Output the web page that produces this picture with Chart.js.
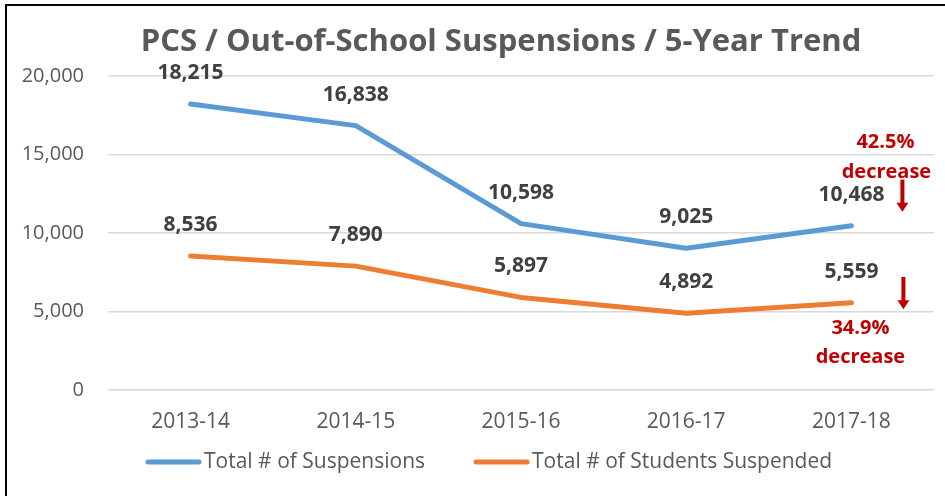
<!DOCTYPE html>
<html>
<head>
<meta charset="utf-8">
<script src="https://cdn.jsdelivr.net/npm/chart.js@4.4.1/dist/chart.umd.min.js"></script>
<style>
  html, body { margin: 0; padding: 0; background: #fff; }
  #wrap { position: relative; width: 945px; height: 496px; }
  #frame { position: absolute; left: 5px; top: 4px; right: 0; bottom: 0;
           border-top: 2px solid #000; border-left: 2px solid #000; pointer-events: none; }
</style>
</head>
<body>
<div id="wrap">
  <canvas id="trendChart"></canvas>
  <div id="frame"></div>
</div>
<script>
// chart data
const chartTitle = 'PCS / Out-of-School Suspensions / 5-Year Trend';
const years = ['2013-14', '2014-15', '2015-16', '2016-17', '2017-18'];
const totalSuspensions = [18215, 16838, 10598, 9025, 10468];
const studentsSuspended = [8536, 7890, 5897, 4892, 5559];
const yTicks = [0, 5000, 10000, 15000, 20000];
const suspensionsNote = ['42.5%', 'decrease'];
const studentsNote = ['34.9%', 'decrease'];

const FONT = "'Open Sans', sans-serif";
const RED = '#C00000';

// title, legend, value labels above each point and the red "decrease" notes
const labelPlugin = {
  id: 'pointLabels',
  afterDatasetsDraw(chart) {
    const ctx = chart.ctx;
    ctx.save();
    ctx.textAlign = 'center';
    ctx.textBaseline = 'middle';

    ctx.font = 'bold 31px ' + FONT;
    ctx.fillStyle = '#595959';
    ctx.fillText(chartTitle, 501, 42);

    ctx.font = 'bold 21px ' + FONT;
    ctx.fillStyle = '#404040';
    chart.data.datasets.forEach((ds, i) => {
      chart.getDatasetMeta(i).data.forEach((pt, j) => {
        ctx.fillText(ds.data[j].toLocaleString('en-US'), pt.x, pt.y - 31);
      });
    });

    // legend along the bottom
    ctx.font = '21px ' + FONT;
    ctx.textAlign = 'left';
    ctx.lineCap = 'round';
    ctx.lineWidth = 5;
    let lx = 146;
    chart.data.datasets.forEach(ds => {
      ctx.strokeStyle = ds.borderColor;
      ctx.beginPath();
      ctx.moveTo(lx + 2, 462);
      ctx.lineTo(lx + 53, 462);
      ctx.stroke();
      ctx.fillStyle = '#595959';
      ctx.fillText(ds.label, lx + 58, 462);
      lx += 58 + ctx.measureText(ds.label).width + 49;
    });

    // notes next to the last year
    const xs = chart.scales.x, ys = chart.scales.y;
    const xLast = xs.getPixelForValue(years.length - 1);
    ctx.textAlign = 'center';
    ctx.font = 'bold 20px ' + FONT;
    ctx.fillStyle = RED;
    ctx.fillText(suspensionsNote[0], xLast + 34, ys.getPixelForValue(15750));
    ctx.fillText(suspensionsNote[1], xLast + 35, ys.getPixelForValue(13850));
    ctx.fillText(studentsNote[0], xLast + 9, ys.getPixelForValue(3930));
    ctx.fillText(studentsNote[1], xLast + 9, ys.getPixelForValue(2090));

    const arrow = (x, y0, y1) => {
      ctx.fillRect(x - 2, y0, 4, y1 - y0 - 8);
      ctx.beginPath();
      ctx.moveTo(x - 6, y1 - 9);
      ctx.lineTo(x + 6, y1 - 9);
      ctx.lineTo(x, y1);
      ctx.closePath();
      ctx.fill();
    };
    arrow(xLast + 51, ys.getPixelForValue(13400), ys.getPixelForValue(11350));
    arrow(xLast + 52, ys.getPixelForValue(7200), ys.getPixelForValue(5150));
    ctx.restore();
  }
};

const ctx = document.getElementById('trendChart').getContext('2d');

const trendChart = new Chart(ctx, {
  type: 'line',
  data: {
    labels: years,
    datasets: [{
      label: 'Total # of Suspensions',
      data: totalSuspensions,
      borderColor: '#5B9BD5',
      backgroundColor: '#5B9BD5',
      borderWidth: 5,
      borderCapStyle: 'round',
      borderJoinStyle: 'round',
      pointRadius: 0,
      tension: 0
    }, {
      label: 'Total # of Students Suspended',
      data: studentsSuspended,
      borderColor: '#ED7D31',
      backgroundColor: '#ED7D31',
      borderWidth: 5,
      borderCapStyle: 'round',
      borderJoinStyle: 'round',
      pointRadius: 0,
      tension: 0
    }]
  },
  options: {
    responsive: true,
    maintainAspectRatio: false,
    animation: false,
    layout: { padding: { left: 0, right: 11, top: 76, bottom: 66 } },
    plugins: {
      title: { display: false },
      legend: { display: false },
      tooltip: { enabled: false }
    },
    scales: {
      x: {
        offset: true,
        grid: { display: false },
        border: { display: false },
        ticks: { color: '#595959', font: { family: FONT, size: 21 }, padding: 11 },
        afterFit(scale) { scale.height = 40; }
      },
      y: {
        min: 0,
        max: 20000,
        afterBuildTicks(scale) { scale.ticks = yTicks.map(v => ({ value: v })); },
        grid: { color: '#d9d9d9', lineWidth: 1.5, drawTicks: false },
        border: { display: false },
        ticks: {
          color: '#595959',
          font: { family: FONT, size: 20 },
          padding: 24,
          callback: v => v.toLocaleString('en-US')
        },
        afterFit(scale) { scale.width = 108; }
      }
    }
  },
  plugins: [labelPlugin]
});
</script>
</body>
</html>
